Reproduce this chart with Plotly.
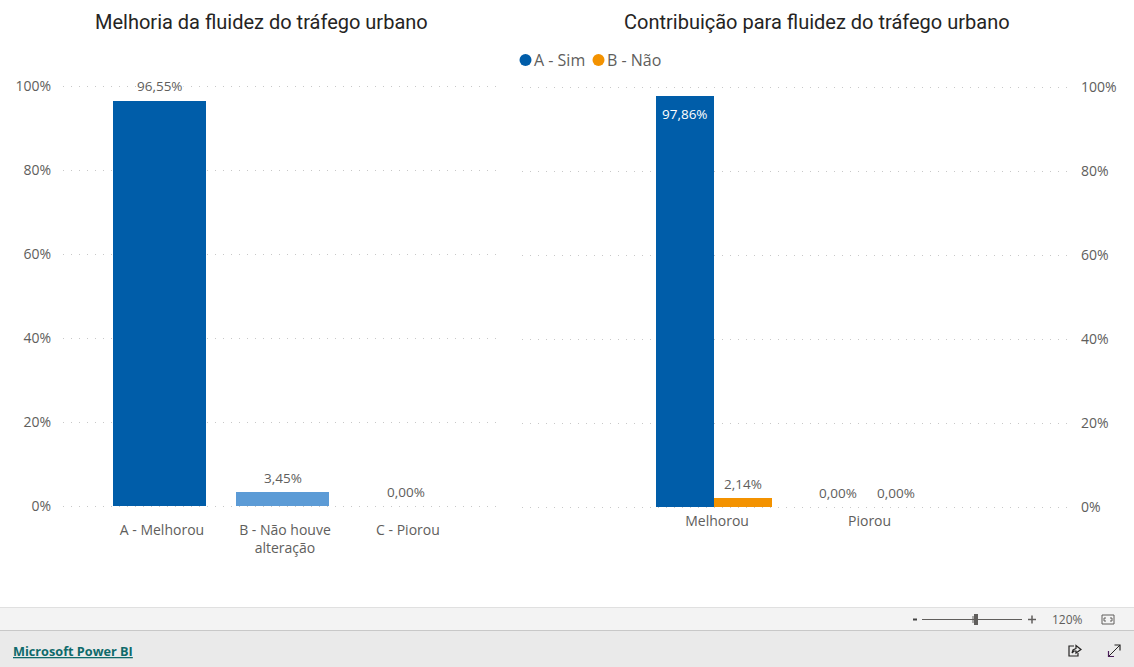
import plotly.graph_objects as go

W, H = 1134, 667

# ---- data ----
left_title = "Melhoria da fluidez do tráfego urbano"
left_categories = ["A - Melhorou", "B - Não houve<br>alteração", "C - Piorou"]
left_values = [96.55, 3.45, 0.00]
left_colors = ["#005DA9", "#5C9BD6", "#005DA9"]

right_title = "Contribuição para fluidez do tráfego urbano"
right_categories = ["Melhorou", "Piorou"]
right_sim = [97.86, 0.00]
right_nao = [2.14, 0.00]
series_names = ["A - Sim", "B - Não"]
series_colors = ["#005DA9", "#F39200"]
y_ticks = [0, 20, 40, 60, 80, 100]
y_tick_labels = ["0%", "20%", "40%", "60%", "80%", "100%"]

TEXT = "#605E5C"
TITLE = "#252423"
GRID = "#C8C8C8"
LABEL_FONT = "Open Sans"
PAD = 0.5  # y-range padding so that the 0% and 100% grid lines are drawn
LEFT_BAR = 93 / 123
RIGHT_BAR = 58 / 152.5


def px(x):
    return x / W


def py(y):
    return 1 - y / H


def axis_common():
    return dict(showline=False, zeroline=False, ticks="", fixedrange=True, automargin=False)


def pct(v):
    return f"{v:.2f}%".replace(".", ",")


fig = go.Figure()

left_pos = list(range(len(left_categories)))
fig.add_trace(go.Bar(
    x=left_pos, y=left_values, width=LEFT_BAR, marker_color=left_colors,
    marker_line_width=0, showlegend=False, xaxis="x", yaxis="y"))

right_pos = list(range(len(right_categories)))
for name, vals, col, off in zip(series_names, [right_sim, right_nao], series_colors, [-1, 0]):
    fig.add_trace(go.Bar(
        x=right_pos, y=vals, width=RIGHT_BAR, offset=off * RIGHT_BAR,
        marker_color=col, marker_line_width=0, name=name,
        showlegend=False, xaxis="x2", yaxis="y2"))

fig.update_layout(
    width=W, height=H, margin=dict(l=0, r=0, t=0, b=0), autosize=False,
    paper_bgcolor="#FFFFFF", plot_bgcolor="#FFFFFF",
    barmode="overlay", showlegend=False, bargap=0,
    font=dict(family=LABEL_FONT, size=14, color=TEXT),
    xaxis=dict(domain=[px(63), px(503)], range=[(63 - 159.5) / 123, (503 - 159.5) / 123],
               tickmode="array", tickvals=[p + 0.02 for p in left_pos],
               ticktext=left_categories, showgrid=False, ticklabelstandoff=12, **axis_common()),
    yaxis=dict(domain=[py(506 + PAD * 4.2), py(86 - PAD * 4.2)], range=[-PAD, 100 + PAD],
               tickmode="array", tickvals=y_ticks, ticktext=y_tick_labels,
               showgrid=True, griddash="1px,7px", gridcolor=GRID, gridwidth=1,
               ticklabelstandoff=11, **axis_common()),
    xaxis2=dict(domain=[px(522), px(1070)], range=[(522 - 714) / 152.5, (1070 - 714) / 152.5],
                anchor="y2", tickmode="array", tickvals=[p + 0.02 for p in right_pos],
                ticktext=right_categories, showgrid=False, ticklabelstandoff=2, **axis_common()),
    yaxis2=dict(domain=[py(507 + PAD * 4.2), py(87 - PAD * 4.2)], range=[-PAD, 100 + PAD],
                anchor="x2", side="right",
                tickmode="array", tickvals=y_ticks, ticktext=y_tick_labels, showgrid=True,
                griddash="1px,7px", gridcolor=GRID, gridwidth=1, ticklabelstandoff=10, **axis_common()),
)


def data_label(xref, yref, x, v, inside=False):
    fig.add_annotation(xref=xref, yref=yref, x=x, y=v, text=pct(v), showarrow=False,
                       xanchor="center", yanchor="middle", yshift=-18 if inside else 14,
                       bgcolor=None if inside else "#FFFFFF", borderpad=0,
                       font=dict(size=13.5, family=LABEL_FONT, color="#FFFFFF" if inside else TEXT))


for p, v in zip(left_pos, left_values):
    data_label("x", "y", p, v)
for vals, off in zip([right_sim, right_nao], [-0.5, 0.5]):
    for p, v in zip(right_pos, vals):
        data_label("x2", "y2", p + off * RIGHT_BAR, v, inside=v > 50)


def ann(x, y, text, size=14, color=TEXT, family=LABEL_FONT, anchor="center"):
    fig.add_annotation(xref="paper", yref="paper", x=px(x), y=py(y), text=text, showarrow=False,
                       xanchor=anchor, yanchor="middle", font=dict(size=size, color=color, family=family))


def rect(x0, y0, x1, y1, fill, line=None):
    fig.add_shape(type="rect", xref="paper", yref="paper", x0=px(x0), x1=px(x1), y0=py(y0), y1=py(y1),
                  fillcolor=fill, line=dict(width=1 if line else 0, color=line or fill), layer="above")


def seg(x0, y0, x1, y1, color="#605E5C", width=1):
    fig.add_shape(type="line", xref="paper", yref="paper", x0=px(x0), x1=px(x1), y0=py(y0), y1=py(y1),
                  line=dict(color=color, width=width), layer="above")


def poly(points, color="#252423", width=1.2, close=False, fill=None):
    d = "M" + " L".join(f"{px(a)},{py(b)}" for a, b in points) + (" Z" if close else "")
    fig.add_shape(type="path", xref="paper", yref="paper", path=d, layer="above",
                  fillcolor=fill or "rgba(0,0,0,0)", line=dict(color=color, width=width))


# titles
ann(261, 22, left_title, size=20, color=TITLE, family="Roboto")
ann(817, 22, right_title, size=20, color=TITLE, family="Roboto")

# legend
for cx, tx, name, col in zip([525.5, 598.5], [532, 605], series_names, series_colors):
    fig.add_shape(type="circle", xref="paper", yref="paper", x0=px(cx - 6), x1=px(cx + 6),
                  y0=py(66), y1=py(54), fillcolor=col, line_width=0)
    ann(tx, 60, name, size=16, anchor="left")

# bottom bars
rect(0, 607, W, 630, "#F3F3F3")
seg(0, 607.5, W, 607.5, "#E0E0E0")
rect(0, 630, W, 667, "#EAEAEA")
seg(0, 630.5, W, 630.5, "#C8C8C8")

ann(11, 651, "<u><b>Microsoft Power BI</b></u>", size=12.7, color="#0F6A6B", anchor="left")

# zoom control
seg(913, 619.5, 917, 619.5, "#444444", 2)
seg(922, 619.5, 1022, 619.5, "#605E5C")
seg(973, 616, 973, 623, "#605E5C")
rect(974, 614, 978, 625, "#605E5C")
seg(1028, 619.5, 1036, 619.5, "#605E5C", 1.5)
seg(1032, 615.5, 1032, 623.5, "#605E5C", 1.5)
ann(1067, 619, "120%", size=12)
rect(1102, 615, 1114, 624, "#F3F3F3", "#605E5C")
poly([(1106, 618), (1104, 618), (1104, 621), (1106, 621)], "#605E5C", 1)
poly([(1110, 618), (1112, 618), (1112, 621), (1110, 621)], "#605E5C", 1)

# share icon
poly([(1074, 646), (1069, 646), (1069, 656), (1078, 656), (1078, 653)])
poly([(1072, 653), (1073, 650), (1076, 648.5), (1076, 645.5), (1081, 649.5), (1076, 653), (1076, 651), (1074, 651), (1072, 653)])

# expand icon
seg(1108.5, 656.5, 1120, 645, "#252423")
poly([(1108.5, 651), (1108.5, 656.5), (1114, 656.5)], "#4B1E5A")
poly([(1114.5, 645), (1120, 645), (1120, 650.5)])

fig.write_html("out.html", config={"displayModeBar": False, "responsive": False},
               post_script="document.body.style.margin='0';document.documentElement.style.overflow='hidden';")
